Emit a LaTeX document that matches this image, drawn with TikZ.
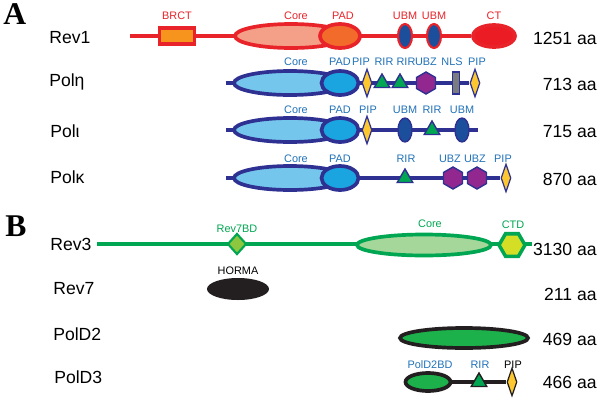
\documentclass[tikz,border=0pt]{standalone}
\usepackage{fontspec}
\setmainfont{Liberation Sans}
\newfontfamily\panelfont{Liberation Serif}
\usepackage{tikz}
\usetikzlibrary{shapes.geometric,backgrounds}

\definecolor{revred}{HTML}{E8242A}
\definecolor{brctorange}{HTML}{F7941D}
\definecolor{coresalmon}{HTML}{F4A088}
\definecolor{padorange}{HTML}{F26B2A}
\definecolor{ubmblue}{HTML}{1B4F9C}
\definecolor{ctred}{HTML}{EC1C24}
\definecolor{navy}{HTML}{2E3192}
\definecolor{polcore}{HTML}{75C6EC}
\definecolor{polpad}{HTML}{1AA5E0}
\definecolor{polblue}{HTML}{2172B8}
\definecolor{pipyellow}{HTML}{FDC82F}
\definecolor{rirgreen}{HTML}{00A651}
\definecolor{ubzpurple}{HTML}{92278F}
\definecolor{nlsgray}{HTML}{7A7C80}
\definecolor{revgreen}{HTML}{00A651}
\definecolor{revcore}{HTML}{A5D79A}
\definecolor{bdgreen}{HTML}{8DC63F}
\definecolor{ctdyellow}{HTML}{D4DE25}
\definecolor{hormablack}{HTML}{231F20}
\definecolor{poldgreen}{HTML}{1DB14B}

\tikzset{
	prot/.style={font=\fontsize{10}{12}\selectfont, anchor=base west, inner sep=0pt},
	aalen/.style={font=\fontsize{10}{12}\selectfont, anchor=base east, inner sep=0pt},
	dom/.style={font=\fontsize{6.2}{7.5}\selectfont, anchor=base, inner sep=0pt},
	panel/.style={font=\panelfont\bfseries\fontsize{18}{20}\selectfont, anchor=base west, inner sep=0pt},
	oval/.style={ellipse, draw, line width=2.1pt, inner sep=0pt},
	pip/.style={diamond, draw=navy, fill=pipyellow, line width=0.7pt, inner sep=0pt, minimum width=10*\px, minimum height=28*\px},
	rir/.style={regular polygon, regular polygon sides=3, draw=navy, fill=rirgreen, line width=0.8pt, inner sep=0pt, minimum size=18*\px},
	ubz/.style={regular polygon, regular polygon sides=6, shape border rotate=30, draw=navy, fill=ubzpurple, line width=0.8pt, inner sep=0pt, minimum size=22*\px},
	ubm/.style={ellipse, draw=navy, fill=ubmblue, line width=0.8pt, inner sep=0pt, minimum width=14*\px, minimum height=24*\px},
	bb/.style={line width=2.2pt},
}

\begin{document}
\begin{tikzpicture}[x=0.02cm, y=-0.02cm]
	% scaling params (one pixel)
	\def\px{0.02cm}
	\useasboundingbox (0,0) rectangle (600,400);
	% panel letters
	\node[panel] (pa) at (3,24) {A};
	\node[panel] (pb) at (5,236) {B};
	% Rev1
	\node[prot] (n-rev1) at (49,43) {Rev1};
	\coordinate (r1-s) at (130,36);
	\node[rectangle, draw=revred, fill=brctorange, line width=1.8pt, inner sep=0pt, minimum width=35*\px, minimum height=16*\px] (r1-brct) at (177,36) {};
	\node[oval, draw=revred, fill=coresalmon, minimum width=112*\px, minimum height=24*\px] (r1-core) at (291,36) {};
	\node[oval, draw=revred, fill=padorange, minimum width=40*\px, minimum height=24*\px] (r1-pad) at (340,36) {};
	\node[ubm, draw=revred, line width=1.2pt] (r1-ubm1) at (405,36) {};
	\node[ubm, draw=revred, line width=1.2pt] (r1-ubm2) at (434,36) {};
	\node[oval, draw=revred, fill=ctred, minimum width=42*\px, minimum height=22*\px] (r1-ct) at (494,36) {};
	\node[dom, revred] (t-brct) at (177,19) {BRCT};
	\node[dom, revred] (t-r1core) at (296,19) {Core};
	\node[dom, revred] (t-r1pad) at (343,19) {PAD};
	\node[dom, revred] (t-r1ubm1) at (405,19) {UBM};
	\node[dom, revred] (t-r1ubm2) at (434,19) {UBM};
	\node[dom, revred] (t-ct) at (494,19) {CT};
	\node[aalen] (l-rev1) at (597,44) {1251 aa};
	% Pol eta
	\node[prot] (n-eta) at (49,86) {Polη};
	\coordinate (eta-s) at (226,83);
	\node[oval, draw=navy, fill=polcore, minimum width=112*\px, minimum height=24*\px] (eta-core) at (290,83) {};
	\node[oval, draw=navy, fill=polpad, minimum width=37*\px, minimum height=24*\px] (eta-pad) at (340,83) {};
	\node[pip] (eta-pip1) at (367,83) {};
	\node[rir] (eta-rir1) at (382,83) {};
	\node[rir] (eta-rir2) at (400,83) {};
	\node[ubz] (eta-ubz) at (426,83) {};
	\node[rectangle, draw=navy, fill=nlsgray, line width=0.8pt, inner sep=0pt, minimum width=7*\px, minimum height=22*\px] (eta-nls) at (456,83) {};
	\node[pip] (eta-pip2) at (475,83) {};
	\node[dom, polblue] (t-etacore) at (296,65) {Core};
	\node[dom, polblue] (t-etapad) at (340,65) {PAD};
	\node[dom, polblue] (t-etapip1) at (361,65) {PIP};
	\node[dom, polblue] (t-etarir1) at (384,65) {RIR};
	\node[dom, polblue] (t-etarir2) at (406,65) {RIR};
	\node[dom, polblue] (t-etaubz) at (426,65) {UBZ};
	\node[dom, polblue] (t-etanls) at (452,65) {NLS};
	\node[dom, polblue] (t-etapip2) at (477,65) {PIP};
	\node[aalen] (l-eta) at (597,90) {713 aa};
	% Pol iota
	\node[prot] (n-iota) at (50,137) {Polι};
	\coordinate (iota-s) at (226,130);
	\coordinate (iota-e) at (478,130);
	\node[oval, draw=navy, fill=polcore, minimum width=112*\px, minimum height=24*\px] (iota-core) at (290,130) {};
	\node[oval, draw=navy, fill=polpad, minimum width=37*\px, minimum height=24*\px] (iota-pad) at (340,130) {};
	\node[pip] (iota-pip) at (367,130) {};
	\node[ubm] (iota-ubm1) at (405,130) {};
	\node[rir] (iota-rir) at (432,130) {};
	\node[ubm] (iota-ubm2) at (462,130) {};
	\node[dom, polblue] (t-iotacore) at (296,113) {Core};
	\node[dom, polblue] (t-iotapad) at (340,113) {PAD};
	\node[dom, polblue] (t-iotapip) at (368,113) {PIP};
	\node[dom, polblue] (t-iotaubm1) at (405,113) {UBM};
	\node[dom, polblue] (t-iotarir) at (432,113) {RIR};
	\node[dom, polblue] (t-iotaubm2) at (462,113) {UBM};
	\node[aalen] (l-iota) at (597,137) {715 aa};
	% Pol kappa
	\node[prot] (n-kappa) at (50,183) {Polκ};
	\coordinate (kap-s) at (226,178);
	\node[oval, draw=navy, fill=polcore, minimum width=112*\px, minimum height=24*\px] (kap-core) at (290,178) {};
	\node[oval, draw=navy, fill=polpad, minimum width=37*\px, minimum height=24*\px] (kap-pad) at (340,178) {};
	\node[rir] (kap-rir) at (405,178) {};
	\node[ubz] (kap-ubz1) at (453,178) {};
	\node[ubz] (kap-ubz2) at (477,178) {};
	\node[pip] (kap-pip) at (506,178) {};
	\node[dom, polblue] (t-kapcore) at (296,162) {Core};
	\node[dom, polblue] (t-kappad) at (340,162) {PAD};
	\node[dom, polblue] (t-kaprir) at (406,162) {RIR};
	\node[dom, polblue] (t-kapubz1) at (450,162) {UBZ};
	\node[dom, polblue] (t-kapubz2) at (475,162) {UBZ};
	\node[dom, polblue] (t-kappip) at (503,162) {PIP};
	\node[aalen] (l-kappa) at (597,185) {870 aa};
	% Rev3
	\node[prot] (n-rev3) at (50,250) {Rev3};
	\coordinate (r3-s) at (97,244);
	\coordinate (r3-e) at (532,244);
	\node[diamond, draw=revgreen, fill=bdgreen, line width=1.2pt, inner sep=0pt, minimum width=19*\px, minimum height=21*\px] (r3-bd) at (237,244) {};
	\node[oval, draw=revgreen, fill=revcore, minimum width=134*\px, minimum height=21*\px] (r3-core) at (424,245) {};
	\node[regular polygon, regular polygon sides=6, draw=revgreen, fill=ctdyellow, line width=2pt, inner sep=0pt, minimum size=26*\px] (r3-ctd) at (512,245) {};
	\node[dom, revgreen] (t-r3bd) at (237,232) {Rev7BD};
	\node[dom, revgreen] (t-r3core) at (430,227) {Core};
	\node[dom, revgreen] (t-ctd) at (513,228) {CTD};
	\node[aalen] (l-rev3) at (597,255) {3130 aa};
	% Rev7
	\node[prot] (n-rev7) at (53,294) {Rev7};
	\node[ellipse, fill=hormablack, inner sep=0pt, minimum width=62*\px, minimum height=22*\px] (r7-horma) at (238,289) {};
	\node[dom, black] (t-horma) at (238,274) {HORMA};
	\node[aalen] (l-rev7) at (597,300) {211 aa};
	% PolD2
	\node[prot] (n-pold2) at (53,340) {PolD2};
	\node[oval, draw=hormablack, fill=poldgreen, minimum width=128*\px, minimum height=20*\px] (d2-dom) at (464,338) {};
	\node[aalen] (l-pold2) at (597,345) {469 aa};
	% PolD3
	\node[prot] (n-pold3) at (54,383) {PolD3};
	\node[oval, draw=hormablack, fill=poldgreen, minimum width=45*\px, minimum height=18*\px] (d3-bd) at (428,382) {};
	\node[rir, draw=hormablack] (d3-rir) at (479,382) {};
	\node[pip, draw=hormablack] (d3-pip) at (512,382) {};
	\node[dom, polblue] (t-d3bd) at (430,368) {PolD2BD};
	\node[dom, polblue] (t-d3rir) at (480,368) {RIR};
	\node[dom, black] (t-d3pip) at (513,368) {PIP};
	\node[aalen] (l-pold3) at (597,388) {466 aa};
	% backbones
	\begin{scope}[on background layer]
	\draw [bb, revred] (r1-s) -- (r1-ct);
	\draw [bb, navy] (eta-s) -- (eta-pip2);
	\draw [bb, navy] (iota-s) -- (iota-e);
	\draw [bb, navy] (kap-s) -- (kap-pip);
	\draw [bb, revgreen] (r3-s) -- (r3-e);
	\draw [bb, hormablack] (d3-bd) -- (d3-pip);
	\end{scope}
\end{tikzpicture}
\end{document}
